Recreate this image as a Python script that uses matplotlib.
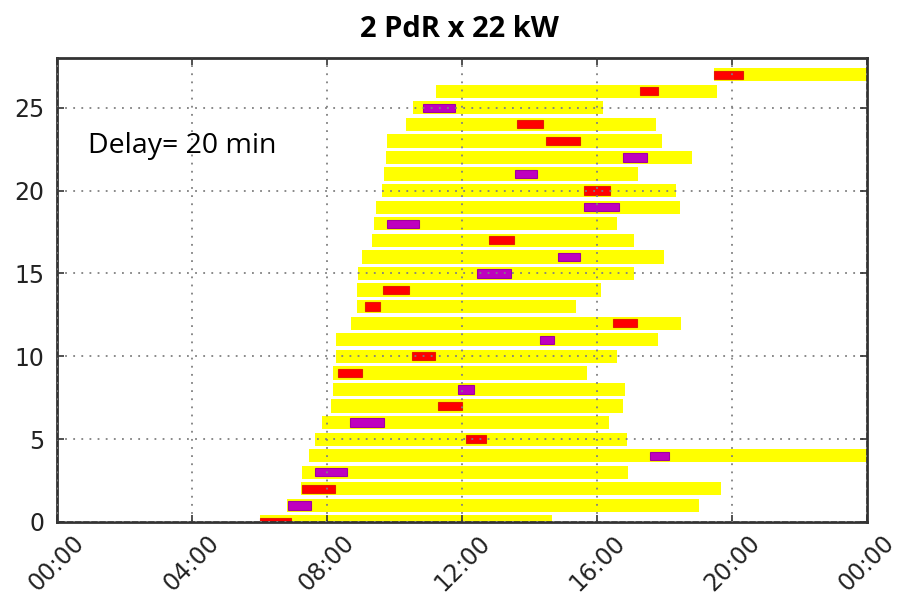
import matplotlib
matplotlib.use("Agg")
import matplotlib.pyplot as plt
import numpy as np

# Estancia de cada vehículo (horas) y tramo de carga
filas = np.arange(28)
inicio = [6.02, 6.81, 7.22, 7.27, 7.48, 7.65, 7.84, 8.12, 8.19, 8.19,
          8.28, 8.28, 8.70, 8.88, 8.88, 8.92, 9.04, 9.34, 9.40, 9.45,
          9.62, 9.68, 9.74, 9.79, 10.33, 10.55, 11.24, 19.48]
fin = [14.67, 19.02, 19.67, 16.93, 24.0, 16.88, 16.36, 16.76, 16.82, 15.70,
       16.59, 17.80, 18.50, 15.37, 16.12, 17.10, 17.99, 17.10, 16.59, 18.45,
       18.34, 17.22, 18.81, 17.92, 17.75, 16.19, 19.55, 24.0]
carga_ini = [6.02, 6.83, 7.25, 7.64, 17.58, 12.11, 8.68, 11.29, 11.88, 8.33,
             10.53, 14.31, 16.46, 9.14, 9.66, 12.45, 14.84, 12.80, 9.79, 15.60,
             15.60, 13.56, 16.76, 14.49, 13.62, 10.83, 17.28, 19.48]
carga_fin = [6.93, 7.53, 8.24, 8.58, 18.12, 12.72, 9.68, 12.01, 12.36, 9.05,
             11.21, 14.74, 17.18, 9.57, 10.43, 13.46, 15.50, 13.53, 10.73, 16.66,
             16.38, 14.22, 17.48, 15.51, 14.39, 11.78, 17.82, 20.33]
# 'r' = punto de recarga 1, 'm' = punto de recarga 2
punto = ['r', 'm', 'r', 'm', 'm', 'r', 'm', 'r', 'm', 'r',
         'r', 'm', 'r', 'r', 'r', 'm', 'm', 'r', 'm', 'm',
         'r', 'm', 'm', 'r', 'r', 'm', 'r', 'r']
horas = [0, 4, 8, 12, 16, 20, 24]
etiquetas = ["%02d:00" % (h % 24) for h in horas]

colores = {'r': '#ff0000', 'm': '#bf00bf'}
bordes = {'r': '#e02000', 'm': '#a000a0'}

fig = plt.figure(figsize=(8.98, 6.05), dpi=100, facecolor='w')
ax = fig.add_axes([0.0635, 0.1372, 0.902, 0.7668])

inicio = np.array(inicio)
fin = np.array(fin)
carga_ini = np.array(carga_ini)
carga_fin = np.array(carga_fin)

# barras de estancia
ax.barh(filas, fin - inicio, left=inicio, height=0.8,
        color='#ffff00', edgecolor='none')
# barras de carga
for i in range(len(filas)):
    ax.barh(filas[i], carga_fin[i] - carga_ini[i], left=carga_ini[i], height=0.5,
            color=colores[punto[i]], edgecolor=bordes[punto[i]], linewidth=0.8)

ax.set_xlim(0, 24)
ax.set_ylim(0, 28)
ax.set_xticks(horas)
ax.set_xticklabels(etiquetas, rotation=45, ha='center', fontsize=17)
ax.set_yticks(np.arange(0, 26, 5))
ax.tick_params(axis='y', labelsize=17, pad=9)
ax.tick_params(axis='x', pad=6)
ax.tick_params(direction='in', top=True, right=True, length=5, width=1.2, colors='#333333')
for lab in ax.get_yticklabels() + ax.get_xticklabels():
    lab.set_color('#222222')

ax.set_axisbelow(False)
ax.grid(True, color='#808080', linestyle=(0, (1, 3.5)), linewidth=1.3)
for s in ax.spines.values():
    s.set_linewidth(2.0)
    s.set_color('#333333')

ax.text(0.038, 0.81, "Delay= 20 min", transform=ax.transAxes,
        fontsize=20.5, family='Open Sans', color='k', va='center')
fig.text(0.512, 0.952, "2 PdR x 22 kW", fontsize=21, family='Open Sans',
         fontweight='bold', ha='center', va='center')

plt.savefig("out.png", dpi=100)
